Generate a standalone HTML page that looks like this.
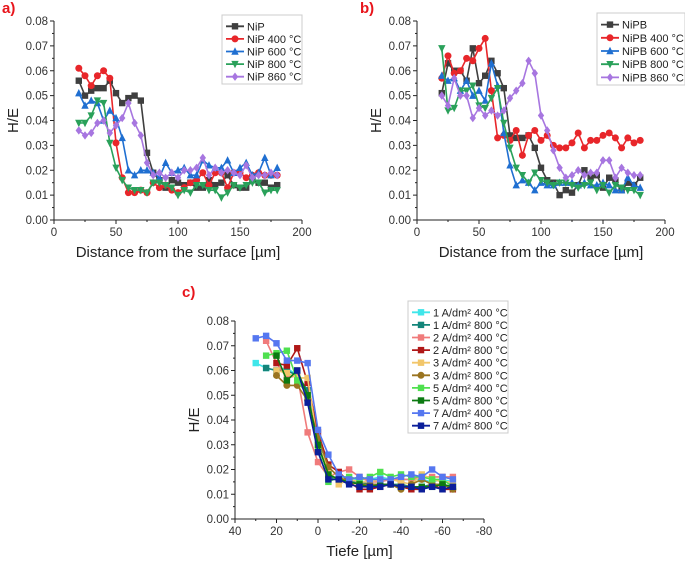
<!DOCTYPE html>
<html><head><meta charset="utf-8"><style>
html,body{margin:0;padding:0;background:#fff;width:685px;height:566px;overflow:hidden}
svg{font-family:"Liberation Sans",Arial,sans-serif}
</style></head><body>
<svg id="root" width="685" height="566"></svg>
<script>
// ---- Panel a data ----
const xA = [20,25,30,35,40,45,50,55,60,65,70,75,80,85,90,95,100,105,110,115,120,125,130,135,140,145,150,155,160,165,170,175,180];
const aNiP    = [.056,.050,.052,.053,.053,.056,.051,.047,.049,.050,.048,.027,.019,.016,.013,.016,.015,.014,.015,.013,.013,.016,.014,.015,.018,.014,.013,.013,.016,.015,.015,.013,.014];
const aNiP400 = [.061,.058,.054,.058,.060,.057,.031,.017,.011,.011,.012,.011,.015,.013,.014,.012,.011,.013,.015,.016,.019,.014,.019,.019,.013,.019,.019,.017,.018,.019,.018,.018,.018];
const aNiP600 = [.051,.046,.048,.047,.040,.044,.041,.033,.020,.018,.020,.020,.019,.017,.023,.019,.020,.021,.018,.018,.024,.022,.021,.021,.024,.019,.021,.023,.018,.019,.025,.018,.021];
const aNiP800 = [.039,.039,.042,.048,.047,.031,.021,.016,.013,.012,.012,.011,.015,.015,.014,.013,.010,.012,.011,.014,.014,.012,.012,.009,.011,.014,.013,.014,.015,.015,.011,.012,.012];
const aNiP860 = [.036,.034,.035,.039,.040,.035,.038,.041,.047,.039,.034,.023,.018,.019,.017,.019,.017,.020,.020,.021,.025,.018,.021,.019,.020,.019,.018,.022,.017,.018,.018,.019,.018];
const namesA = ["NiP","NiP 400 °C","NiP 600 °C","NiP 800 °C","NiP 860 °C"];
// ---- Panel b data ----
const bNiPB    = [.051,.063,.060,.060,.056,.069,.055,.058,.064,.059,.053,.034,.033,.033,.034,.029,.021,.016,.015,.010,.012,.011,.014,.020,.017,.018,.013,.017,.016,.012,.015,.014,.017];
const bNiPB400 = [.057,.066,.059,.060,.065,.064,.069,.073,.052,.033,.034,.032,.036,.026,.034,.036,.032,.034,.030,.029,.029,.031,.035,.029,.032,.032,.034,.035,.033,.029,.033,.031,.032];
const bNiPB600 = [.058,.056,.057,.052,.056,.050,.052,.048,.063,.054,.035,.022,.014,.016,.015,.012,.015,.014,.014,.015,.015,.015,.014,.015,.014,.014,.015,.014,.012,.012,.017,.014,.013];
const bNiPB800 = [.069,.044,.045,.052,.052,.054,.046,.045,.049,.053,.039,.029,.021,.018,.015,.019,.016,.015,.014,.015,.015,.014,.013,.014,.015,.012,.014,.011,.014,.013,.012,.012,.010];
const bNiPB860 = [.050,.046,.057,.050,.050,.041,.045,.042,.044,.042,.044,.049,.052,.055,.064,.059,.042,.036,.028,.021,.017,.018,.020,.018,.019,.019,.024,.024,.017,.021,.019,.018,.018];
const namesB = ["NiPB","NiPB 400 °C","NiPB 600 °C","NiPB 800 °C","NiPB 860 °C"];
// ---- Panel c data ----
const xC = [30,25,20,15,10,5,0,-5,-10,-15,-20,-25,-30,-35,-40,-45,-50,-55,-60,-65];
const c1A400 = [.063,.061,.060,.061,.058,.052,.030,.018,.016,.016,.016,.016,.017,.016,.016,.016,.016,.015,.016,.015];
const c1A800 = [null,.061,.060,.060,.058,.052,.032,.017,.016,.015,.015,.014,.014,.014,.014,.013,.013,.014,.014,.013];
const c2A400 = [null,.072,.063,.057,.058,.035,.023,.017,.019,.020,.017,.015,.015,.016,.016,.016,.017,.017,.017,.017];
const c2A800 = [null,null,.063,.062,.069,.055,.035,.022,.019,.015,.012,.012,.013,.014,.013,.012,.012,.014,.012,.012];
const c3A400 = [null,null,.060,.059,.057,.057,.030,.020,.014,.016,.015,.015,.016,.016,.015,.014,.018,.016,.015,.015];
const c3A800 = [null,null,.058,.054,.054,.048,.033,.021,.017,.015,.014,.014,.014,.014,.012,.014,.016,.014,.014,.012];
const c5A400 = [null,.066,.067,.068,.056,.050,.028,.015,.017,.017,.016,.017,.019,.017,.018,.017,.017,.016,.016,.013];
const c5A800 = [null,null,.066,.056,.060,.050,.030,.018,.016,.015,.014,.013,.014,.014,.013,.013,.013,.013,.014,.013];
const c7A400 = [.073,.074,.071,.064,.064,.063,.036,.026,.018,.016,.017,.016,.016,.016,.017,.018,.017,.020,.017,.016];
const c7A800 = [null,null,null,null,.060,.047,.027,.016,.016,.014,.013,.013,.013,.014,.013,.013,.012,.013,.012,.013];
const namesC = ["1 A/dm² 400 °C","1 A/dm² 800 °C","2 A/dm² 400 °C","2 A/dm² 800 °C","3 A/dm² 400 °C","3 A/dm² 800 °C","5 A/dm² 400 °C","5 A/dm² 800 °C","7 A/dm² 400 °C","7 A/dm² 800 °C"];
const yTicks = [0,0.01,0.02,0.03,0.04,0.05,0.06,0.07,0.08];
const xTicksAB = [0,50,100,150,200];
const xTicksC = [40,20,0,-20,-40,-60,-80];

const NS="http://www.w3.org/2000/svg";
const root=document.getElementById('root');
function mk(tag,attrs,parent){const e=document.createElementNS(NS,tag);for(const k in attrs)e.setAttribute(k,attrs[k]);(parent||root).appendChild(e);return e;}
function marker(g,shape,x,y,col){
  const s=3.2;let e;
  if(shape==='sq') e=mk('rect',{x:x-s,y:y-s,width:2*s,height:2*s,fill:col},g);
  else if(shape==='ci') e=mk('circle',{cx:x,cy:y,r:s+0.3,fill:col},g);
  else if(shape==='tu') e=mk('polygon',{points:`${x},${y-s-1} ${x-s-0.5},${y+s} ${x+s+0.5},${y+s}`,fill:col},g);
  else if(shape==='td') e=mk('polygon',{points:`${x},${y+s+1} ${x-s-0.5},${y-s} ${x+s+0.5},${y-s}`,fill:col},g);
  else e=mk('polygon',{points:`${x},${y-s-1} ${x+s},${y} ${x},${y+s+1} ${x-s},${y}`,fill:col},g);
  
  
}
function chart(c){
  const g=mk('g',{});
  
  
  const sx=v=>c.L+(v-c.x0)/(c.x1-c.x0)*(c.R-c.L);
  const sy=v=>c.B-(v-0)/0.08*(c.B-c.T);
  const lab=mk('text',{x:c.px,y:c.py,fill:'#e8141b','font-size':15,'font-weight':'bold'},g);lab.textContent=c.label;
  
  const ax=mk('path',{d:`M${c.L},${c.T} L${c.L},${c.B} L${c.R},${c.B}`,stroke:'#222',fill:'none','stroke-width':1},g);
  
  yTicks.forEach((v,i)=>{const y=sy(v);mk('line',{x1:c.L-4,x2:c.L,y1:y,y2:y,stroke:'#222'},g);
    if(i<yTicks.length-1){const y2=sy(v+0.005);mk('line',{x1:c.L-2,x2:c.L,y1:y2,y2:y2,stroke:'#222'},g);}
    const t=mk('text',{x:c.L-6,y:y+4,'text-anchor':'end','font-size':11.5,fill:'#333'},g);t.textContent=v.toFixed(2);
    });
  c.xt.forEach((v,i)=>{const x=sx(v);mk('line',{x1:x,x2:x,y1:c.B,y2:c.B+4,stroke:'#222'},g);
    if(i<c.xt.length-1){const x2=sx((v+c.xt[i+1])/2);mk('line',{x1:x2,x2:x2,y1:c.B,y2:c.B+2,stroke:'#222'},g);}
    const t=mk('text',{x:x,y:c.B+16,'text-anchor':'middle','font-size':11.5,fill:'#333'},g);t.textContent=v;
    });
  const yt=mk('text',{x:0,y:0,transform:`translate(${c.L-36},${(c.T+c.B)/2}) rotate(-90)`,'text-anchor':'middle','font-size':15,fill:'#222'},g);yt.textContent='H/E';
  
  const xt=mk('text',{x:(c.L+c.R)/2,y:c.B+37,'text-anchor':'middle','font-size':15,fill:'#222'},g);xt.textContent=c.xtitle;
  
  c.series.forEach((s,k)=>{
    const sg=mk('g',{},g);
    
    let d='';s.v.forEach((v,i)=>{if(v==null)return;d+=(d?'L':'M')+sx(c.xs[i]).toFixed(1)+','+sy(v).toFixed(1);});
    mk('path',{d,stroke:s.c,fill:'none','stroke-width':1.6},sg);
    s.v.forEach((v,i)=>{if(v!=null)marker(sg,s.m,sx(c.xs[i]),sy(v),s.c);});
  });
  const lg=mk('g',{},g);
  mk('rect',{x:c.lx,y:c.ly,width:c.lw,height:c.series.length*c.lh+6,fill:'#fff',stroke:'#ccc'},lg);
  c.series.forEach((s,k)=>{const y=c.ly+6+c.lh*k+c.lh/2-1;
    mk('line',{x1:c.lx+4,x2:c.lx+22,y1:y,y2:y,stroke:s.c,'stroke-width':1.8},lg);marker(lg,s.m,c.lx+13,y,s.c);
    const t=mk('text',{x:c.lx+25,y:y+4,'font-size':11,fill:'#222'},lg);t.textContent=c.names[k];
    });
}
const colsAB=['#3f3f3f','#e8262a','#1f6fd1','#2aa15a','#a776e0'];
const mksAB=['sq','ci','tu','td','di'];
chart({name:'chart-a',label:'a)',px:2,py:13,L:54,R:302,T:21,B:220,x0:0,x1:200,xs:xA,xt:xTicksAB,
  xtitle:'Distance from the surface [µm]',names:namesA,lx:222,ly:15,lw:80,lh:12.6,
  series:[aNiP,aNiP400,aNiP600,aNiP800,aNiP860].map((v,i)=>({v,c:colsAB[i],m:mksAB[i]}))});
chart({name:'chart-b',label:'b)',px:360,py:13,L:417,R:665,T:21,B:220,x0:0,x1:200,xs:xA,xt:xTicksAB,
  xtitle:'Distance from the surface [µm]',names:namesB,lx:597,ly:13,lw:88,lh:13.2,
  series:[bNiPB,bNiPB400,bNiPB600,bNiPB800,bNiPB860].map((v,i)=>({v,c:colsAB[i],m:mksAB[i]}))});
const colsC=['#3fe6ea','#13857a','#f07b7b','#b01818','#f2c66a','#9a7420','#4fe04f','#0c7a12','#5577f0','#0b1e9a'];
chart({name:'chart-c',label:'c)',px:182,py:297,L:235,R:484,T:321,B:519,x0:40,x1:-80,xs:xC,xt:xTicksC,
  xtitle:'Tiefe [µm]',names:namesC,lx:408,ly:301,lw:100,lh:12.6,
  series:[c1A400,c1A800,c2A400,c2A800,c3A400,c3A800,c5A400,c5A800,c7A400,c7A800].map((v,i)=>({v,c:colsC[i],m:i===5?'ci':'sq'}))});
</script>
</body></html>
